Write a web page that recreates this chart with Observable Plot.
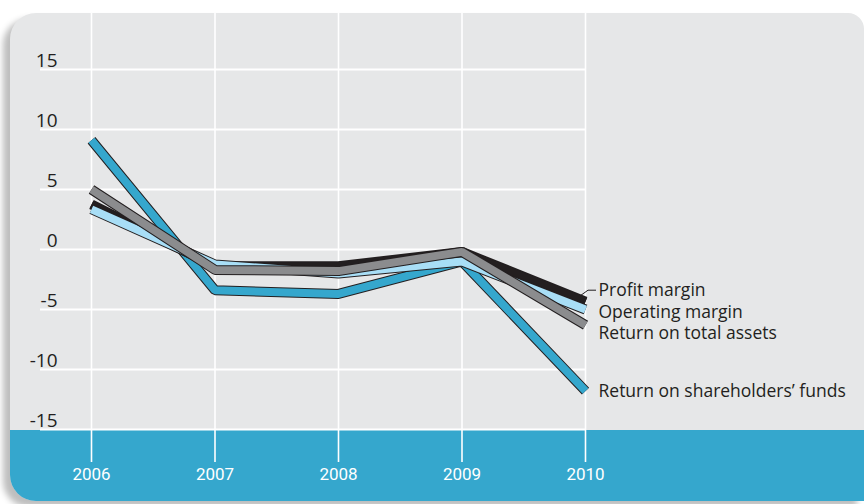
<!DOCTYPE html>
<html><head><meta charset="utf-8">
<script src="https://cdn.jsdelivr.net/npm/d3@7"></script>
<script src="https://cdn.jsdelivr.net/npm/@observablehq/plot@0.6"></script>
<style>
body{margin:0;background:#fff;}
#wrap{position:relative;width:864px;height:504px;overflow:hidden;font-family:"Open Sans",sans-serif;}
#panel{position:absolute;left:10px;top:13px;width:854px;height:488px;background:#e6e7e8;border-radius:26px 16px 0 26px;box-shadow:-7px 6px 6px rgba(0,0,0,0.26);}
#band{position:absolute;left:10px;top:430px;width:854px;height:71px;background:#35a7cd;border-radius:0 0 0 26px;}
#chart{position:absolute;left:0;top:0;}
</style></head>
<body>
<div id="wrap"><div id="panel"></div><div id="band"></div><div id="chart"></div></div>
<script>
const years = [2006, 2007, 2008, 2009, 2010];
const yTicks = [15, 10, 5, 0, -5, -10, -15];
const seriesNames = ["Return on shareholders’ funds", "Profit margin", "Operating margin", "Return on total assets"];
const returnOnFunds   = [9.1, -3.4, -3.7, -1.0, -11.8];
const profitMargin    = [3.75, -1.4, -1.4, -0.2, -4.35];
const operatingMargin = [3.35, -1.25, -2.0, -1.0, -5.0];
const returnOnAssets  = [5.0, -1.7, -1.8, -0.2, -6.3];
const seriesValues = [returnOnFunds, profitMargin, operatingMargin, returnOnAssets];
const seriesColors = ["#35a7cd", "#231f20", "#a8def6", "#8b8c8e"];

const rows = seriesNames.flatMap((name, i) => years.map((year, j) => ({series: name, year, value: seriesValues[i][j]})));
const last = seriesNames.map((name, i) => ({series: name, year: years[years.length - 1], value: seriesValues[i][years.length - 1]}));
const labelDy = {"Profit margin": -11, "Operating margin": 3, "Return on total assets": 8, "Return on shareholders’ funds": 0};

const lineMarks = seriesNames.flatMap((name, i) => {
  const d = rows.filter(r => r.series === name);
  return [
    Plot.line(d, {x: "year", y: "value", stroke: "#231f20", strokeWidth: 10, strokeLinejoin: "miter", strokeLinecap: "butt"}),
    Plot.line(d, {x: "year", y: "value", stroke: seriesColors[i], strokeWidth: 8, strokeLinejoin: "miter", strokeLinecap: "butt"})
  ];
});

const labelMarks = last.map(d => Plot.text([d], {x: "year", y: "value", text: "series", textAnchor: "start", dx: 13, dy: labelDy[d.series], fill: "#231f20", fontSize: 17.5}));

const chart = Plot.plot({
  width: 864, height: 504,
  marginTop: 13, marginBottom: 42, marginLeft: 40, marginRight: 279,
  style: {background: "transparent", fontFamily: "Open Sans, sans-serif", fontSize: "16px", overflow: "visible"},
  x: {domain: [2006, 2010], range: [91, 585], label: null},
  y: {domain: [-15, 15], range: [429, 69], label: null},
  marks: [
    Plot.ruleY(yTicks, {stroke: "#fff", strokeWidth: 2}),
    Plot.ruleX(years, {stroke: "#fff", strokeWidth: 1.6}),
    Plot.axisY(yTicks, {tickSize: 0, tickPadding: 3, dx: 20, dy: -9, fill: "#231f20", fontSize: 19, label: null, tickFormat: d => String(d)}),
    Plot.axisX(years, {tickSize: 0, tickPadding: 5, fill: "#fff", fontSize: 17, fontFamily: "Roboto, Open Sans, sans-serif", label: null, tickFormat: d => String(d)}),
    ...lineMarks,
    ...labelMarks
  ]
});
// leader line from the profit-margin line end to its label
const pm = last.find(d => d.series === "Profit margin");
const px = chart.scale("x").apply(pm.year), py = chart.scale("y").apply(pm.value);
d3.select(chart).append("path")
  .attr("d", `M${px - 4},${py - 6}L${px + 3},${py - 11}L${px + 11},${py - 11}`)
  .attr("fill", "none").attr("stroke", "#231f20").attr("stroke-width", 1);
document.getElementById("chart").appendChild(chart);
</script>
</body></html>
